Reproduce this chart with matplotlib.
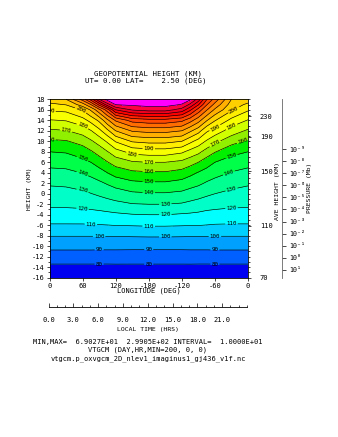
import numpy as np
import matplotlib
matplotlib.use("Agg")
import matplotlib.pyplot as plt
from matplotlib.ticker import MultipleLocator, FixedLocator

plt.rcParams['font.family'] = ['DejaVu Sans Mono']
plt.rcParams['font.size'] = 5
plt.rcParams['axes.unicode_minus'] = False

# ---- data ----
longitudes = [0, 30, 60, 75, 90, 105, 120, 150, 180, 210, 240, 255, 270, 285, 300, 330, 360]
heights = [-16, -14, -12, -10, -8, -6, -4, -2, 0, 2, 4, 6, 8, 10, 12, 14, 16, 17, 18]

# geopotential height (km), one row per height level
z_m16 = [70.4, 70.4, 70.4, 70.4, 70.3, 70.3, 70.1, 69.8, 69.027, 69.3, 69.9, 70.1, 70.2, 70.3, 70.4, 70.4, 70.4]
z_m14 = [77.8, 77.8, 77.8, 77.8, 77.8, 77.8, 77.9, 77.9, 77.9, 77.9, 77.9, 77.9, 77.8, 77.8, 77.8, 77.8, 77.8]
z_m12 = [85.2, 85.2, 85.2, 85.2, 85.1, 85.1, 85.1, 85.0, 85.0, 85.0, 85.0, 85.1, 85.1, 85.1, 85.2, 85.2, 85.2]
z_m10 = [92.7, 92.7, 92.7, 92.7, 92.6, 92.6, 92.6, 92.5, 92.5, 92.5, 92.5, 92.6, 92.6, 92.6, 92.7, 92.7, 92.7]
z_m8 = [100.4, 100.4, 100.4, 100.4, 100.4, 100.5, 100.6, 100.8, 101.0, 101.0, 100.8, 100.7, 100.6, 100.5, 100.4, 100.4, 100.4]
z_m6 = [109.1, 109.1, 109.1, 109.3, 109.5, 109.8, 110.2, 110.5, 110.9, 110.9, 110.5, 110.3, 110.2, 109.8, 109.3, 109.1, 109.1]
z_m4 = [116.0, 116.0, 116.3, 116.6, 117.0, 117.6, 118.3, 119.5, 120.0, 120.0, 119.0, 118.6, 118.0, 117.0, 116.7, 116.0, 116.0]
z_m2 = [121.8, 121.9, 122.5, 123.4, 124.4, 125.8, 127.3, 129.5, 130.0, 130.0, 129.0, 127.5, 126.0, 124.4, 123.3, 122.2, 121.8]
z_0 = [126.4, 126.7, 128.1, 129.7, 131.6, 133.6, 135.4, 138.3, 139.1, 139.1, 137.8, 135.8, 134.0, 131.8, 130.0, 127.6, 126.4]
z_2 = [131.2, 131.8, 134.1, 136.0, 138.1, 140.9, 143.8, 147.6, 148.6, 148.6, 146.5, 144.0, 141.9, 138.9, 136.7, 133.3, 131.2]
z_4 = [137.1, 137.6, 140.3, 142.6, 145.8, 150.0, 154.2, 157.9, 158.9, 158.9, 156.3, 152.8, 149.3, 146.1, 143.3, 139.4, 137.1]
z_6 = [143.3, 144.0, 147.2, 150.0, 154.5, 159.5, 164.2, 168.9, 170.0, 170.0, 167.6, 164.1, 160.0, 154.7, 150.0, 145.6, 143.3]
z_8 = [150.0, 150.8, 154.8, 158.7, 163.8, 169.5, 176.0, 183.3, 185.0, 185.0, 181.7, 176.7, 172.5, 165.9, 160.6, 153.0, 150.0]
z_10 = [158.3, 159.2, 163.7, 168.5, 174.1, 181.5, 190.8, 201.0, 203.0, 203.0, 200.0, 192.7, 186.2, 178.7, 172.5, 163.8, 158.3]
z_12 = [168.4, 169.5, 174.4, 179.4, 187.1, 197.5, 210.0, 221.1, 223.3, 223.3, 220.0, 212.0, 204.0, 191.7, 185.7, 175.3, 168.4]
z_14 = [179.4, 180.6, 186.3, 193.1, 202.1, 217.8, 231.4, 243.8, 246.3, 246.3, 242.5, 234.0, 224.0, 211.0, 200.8, 187.1, 179.4]
z_16 = [191.3, 192.4, 200.9, 211.4, 227.1, 245.0, 270.0, 281.0, 284.0, 284.0, 276.0, 262.0, 246.0, 231.0, 218.2, 201.4, 191.3]
z_17 = [198.0, 200.5, 215.0, 230.0, 253.0, 276.0, 290.5, 292.0, 293.5, 293.5, 289.5, 278.0, 261.0, 241.0, 227.0, 205.5, 198.0]
z_18 = [205.0, 210.0, 234.0, 254.0, 280.0, 294.0, 296.0, 297.5, 299.05, 298.5, 295.0, 292.0, 276.0, 251.0, 236.0, 210.0, 205.0]

lon_ticks = [0, 60, 120, 180, 240, 300, 360]
lon_labels = ['0', '60', '120', '-180', '-120', '-60', '0']
ave_height_labels = [70, 110, 150, 190, 230]
ave_height_z = [-16.0, -6.1, 4.3, 10.9, 14.8]
pressure_exp = [-9, -8, -7, -6, -5, -4, -3, -2, -1, 0, 1]
p0_mb = 5.0e-6
lt_ticks = [0, 3, 6, 9, 12, 15, 18, 21]

band_colors = ['#0000f0', '#0060ff', '#00a0ff', '#00d0ff', '#00ffff', '#00ffc8',
               '#00ff90', '#00ff48', '#00f000', '#90f000', '#d0ff00', '#f8ff00',
               '#ffee00', '#ffd000', '#ffb000', '#ff9000', '#ff6c00', '#ff4800',
               '#ff2400', '#ff0000', '#f0001e', '#ff0040', '#ff00ff']

grid = np.array([z_m16, z_m14, z_m12, z_m10, z_m8, z_m6, z_m4, z_m2, z_0, z_2, z_4,
                 z_6, z_8, z_10, z_12, z_14, z_16, z_17, z_18])
line_levels = np.arange(80, 291, 10)
fill_levels = np.concatenate([[0], line_levels, [400]])

W, H = 338, 437
def fx(px):
    return px / W
def fy(py):
    return 1 - py / H

fig = plt.figure(figsize=(W / 100, H / 100), dpi=100)
ax = fig.add_axes([fx(49.5), fy(277.7), fx(248) - fx(49.5), fy(99.3) - fy(277.7)])

ax.contourf(longitudes, heights, grid, levels=fill_levels, colors=band_colors)
cs = ax.contour(longitudes, heights, grid, levels=line_levels, colors='k', linewidths=0.45)

# label spots: pick the contour vertex nearest to a chosen longitude
label_lons = {80: [88, 195, 312], 90: [88, 195, 312], 100: [88, 197, 312], 110: [70, 195, 327],
              120: [64, 218, 327], 130: [64, 215, 327], 140: [64, 195, 327], 150: [52, 191, 342],
              160: [13, 191, 342], 170: [18, 191, 303], 180: [52, 161, 340], 190: [14, 191, 309],
              200: [49, 336]}
spots = []
for lev, path in zip(line_levels, cs.get_paths()):
    v = path.vertices
    if len(v) == 0 or lev not in label_lons:
        continue
    for lo in label_lons[lev]:
        i = np.argmin(np.abs(v[:, 0] - lo))
        spots.append((v[i, 0], v[i, 1]))
ax.clabel(cs, manual=spots, inline=True, fontsize=4.2, fmt='%d', inline_spacing=1)

ax.set_xlim(0, 360)
ax.set_ylim(-16, 18)
ax.set_xticks(lon_ticks)
ax.set_xticklabels(lon_labels)
ax.set_yticks(np.arange(-16, 19, 2))
ax.yaxis.set_minor_locator(MultipleLocator(1))
ax.tick_params(which='both', direction='out', length=2, width=0.5, pad=1.5, labelsize=5)
ax.tick_params(which='minor', length=1.2)
for s in ax.spines.values():
    s.set_linewidth(0.6)

# right axis: average height
axr = ax.twinx()
axr.set_ylim(-16, 18)
axr.yaxis.set_major_locator(FixedLocator(ave_height_z))
axr.set_yticklabels([str(v) for v in ave_height_labels])
axr.yaxis.set_minor_locator(MultipleLocator(1))
axr.tick_params(which='both', direction='out', length=2.5, width=0.5, pad=6, labelsize=5)
axr.tick_params(which='minor', length=1.5)
for s in axr.spines.values():
    s.set_visible(False)

# pressure axis
axp = fig.add_axes([fx(272), fy(277.7), fx(282) - fx(272), fy(99.3) - fy(277.7)])
axp.set_ylim(-16, 18)
for k in ['left', 'top', 'bottom']:
    axp.spines[k].set_visible(False)
axp.spines['right'].set_linewidth(0.6)
axp.spines['right'].set_color('0.4')
axp.patch.set_visible(False)
axp.set_xticks([])
axp.yaxis.tick_right()
sup = str.maketrans('-0123456789', '⁻⁰¹²³⁴⁵⁶⁷⁸⁹')
axp.set_yticks([np.log(p0_mb / 10.0 ** e) for e in pressure_exp])
axp.set_yticklabels(['10' + str(e).translate(sup) for e in pressure_exp])
axp.tick_params(direction='out', length=3, width=0.5, pad=2.5, labelsize=4.8)

# local time axis
axt = fig.add_axes([fx(48.5), fy(307.3), fx(247) - fx(48.5), 0.02])
axt.set_xlim(0, 24)
axt.set_ylim(0, 1)
for k in ['left', 'top', 'right']:
    axt.spines[k].set_visible(False)
axt.spines['bottom'].set_linewidth(0.6)
axt.patch.set_visible(False)
axt.set_yticks([])
axt.set_xticks(lt_ticks)
axt.set_xticklabels([f'{t:.1f}' for t in lt_ticks])
axt.xaxis.set_minor_locator(MultipleLocator(1))
axt.tick_params(which='both', direction='in', length=3, width=0.5, pad=7, labelsize=5)
axt.tick_params(which='minor', length=1.5)

# text
fig.text(fx(148.5), fy(73.5), 'GEOPOTENTIAL HEIGHT (KM)', ha='center', va='center', fontsize=5.3)
fig.text(fx(146), fy(80.5), 'UT= 0.00 LAT=    2.50 (DEG)', ha='center', va='center', fontsize=5.3)
fig.text(fx(30), fy(189), 'HEIGHT (KM)', rotation=90, ha='center', va='center', fontsize=4.6)
fig.text(fx(148.5), fy(290.7), 'LONGITUDE (DEG)', ha='center', va='center', fontsize=5)
fig.text(fx(277.5), fy(191), 'AVE HEIGHT (KM)', rotation=90, ha='center', va='center', fontsize=4.6)
fig.text(fx(310), fy(188), 'PRESSURE (Mb)', rotation=90, ha='center', va='center', fontsize=4.6)
fig.text(fx(148), fy(330), 'LOCAL TIME (HRS)', ha='center', va='center', fontsize=4.6)
fig.text(fx(147.5), fy(342.3),
         f'MIN,MAX= {grid.min():11.4E} {grid.max():11.4E} INTERVAL= {10.0:11.4E}',
         ha='center', va='center', fontsize=5)
fig.text(fx(148), fy(349.5), 'VTGCM (DAY,HR,MIN=200, 0, 0)', ha='center', va='center', fontsize=5)
fig.text(fx(148), fy(359), 'vtgcm.p_oxvgcm_2D_nlev1_imaginus1_gj436_v1f.nc',
         ha='center', va='center', fontsize=5)

fig.savefig('out.png', dpi=100)
